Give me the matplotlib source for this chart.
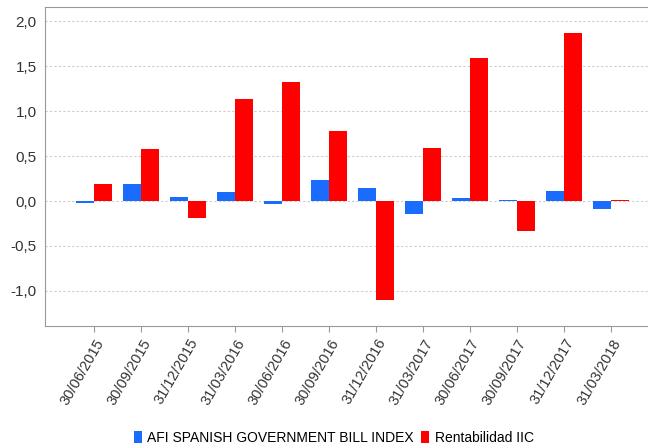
import numpy as np
import matplotlib
matplotlib.use('Agg')
import matplotlib.pyplot as plt

plt.rcParams['font.family'] = ['Liberation Sans', 'DejaVu Sans']

fechas = ['30/06/2015', '30/09/2015', '31/12/2015', '31/03/2016', '30/06/2016', '30/09/2016',
          '31/12/2016', '31/03/2017', '30/06/2017', '30/09/2017', '31/12/2017', '31/03/2018']
indice = [-0.02, 0.19, 0.05, 0.10, -0.03, 0.23, 0.15, -0.14, 0.03, 0.01, 0.11, -0.09]
rentabilidad = [0.19, 0.58, -0.19, 1.14, 1.32, 0.78, -1.10, 0.59, 1.59, -0.33, 1.87, 0.01]

azul = '#1a6cff'
rojo = '#ff0000'

fig = plt.figure(figsize=(6.48, 4.46), dpi=100)
ax = fig.add_axes([0.0694, 0.269, 0.95, 0.715])

x = np.arange(len(fechas))
w = 0.38
ax.bar(x - w / 2, indice, w, color=azul, label='AFI SPANISH GOVERNMENT BILL INDEX', zorder=3)
ax.bar(x + w / 2, rentabilidad, w, color=rojo, label='Rentabilidad IIC', zorder=3)

ax.set_xlim(-1.05, 12.05)
ax.set_ylim(-1.39, 2.156)
yt = [-1.0, -0.5, 0.0, 0.5, 1.0, 1.5, 2.0]
ax.set_yticks(yt)
ax.set_yticklabels([f'{v:.1f}'.replace('.', ',') for v in yt])
ax.set_xticks(x)
ax.set_xticklabels(fechas, rotation=60, ha='right', rotation_mode='anchor')
ax.grid(axis='y', color='#cccccc', linestyle=(0, (2, 2)), linewidth=0.8, zorder=0)

for s in ['top', 'left', 'bottom']:
    ax.spines[s].set_color('#999999')
ax.spines['right'].set_visible(False)
ax.tick_params(colors='#333333', labelsize=10.5, length=4)
ax.tick_params(axis='y', length=0, pad=6, labelsize=11)
ax.tick_params(axis='x', color='#999999')

fig.legend(loc='lower center', bbox_to_anchor=(0.515, -0.025), ncol=2, frameon=False,
           fontsize=10, handlelength=0.6, handleheight=0.9, handletextpad=0.4, columnspacing=0.5)

fig.savefig('out.png', dpi=100)
